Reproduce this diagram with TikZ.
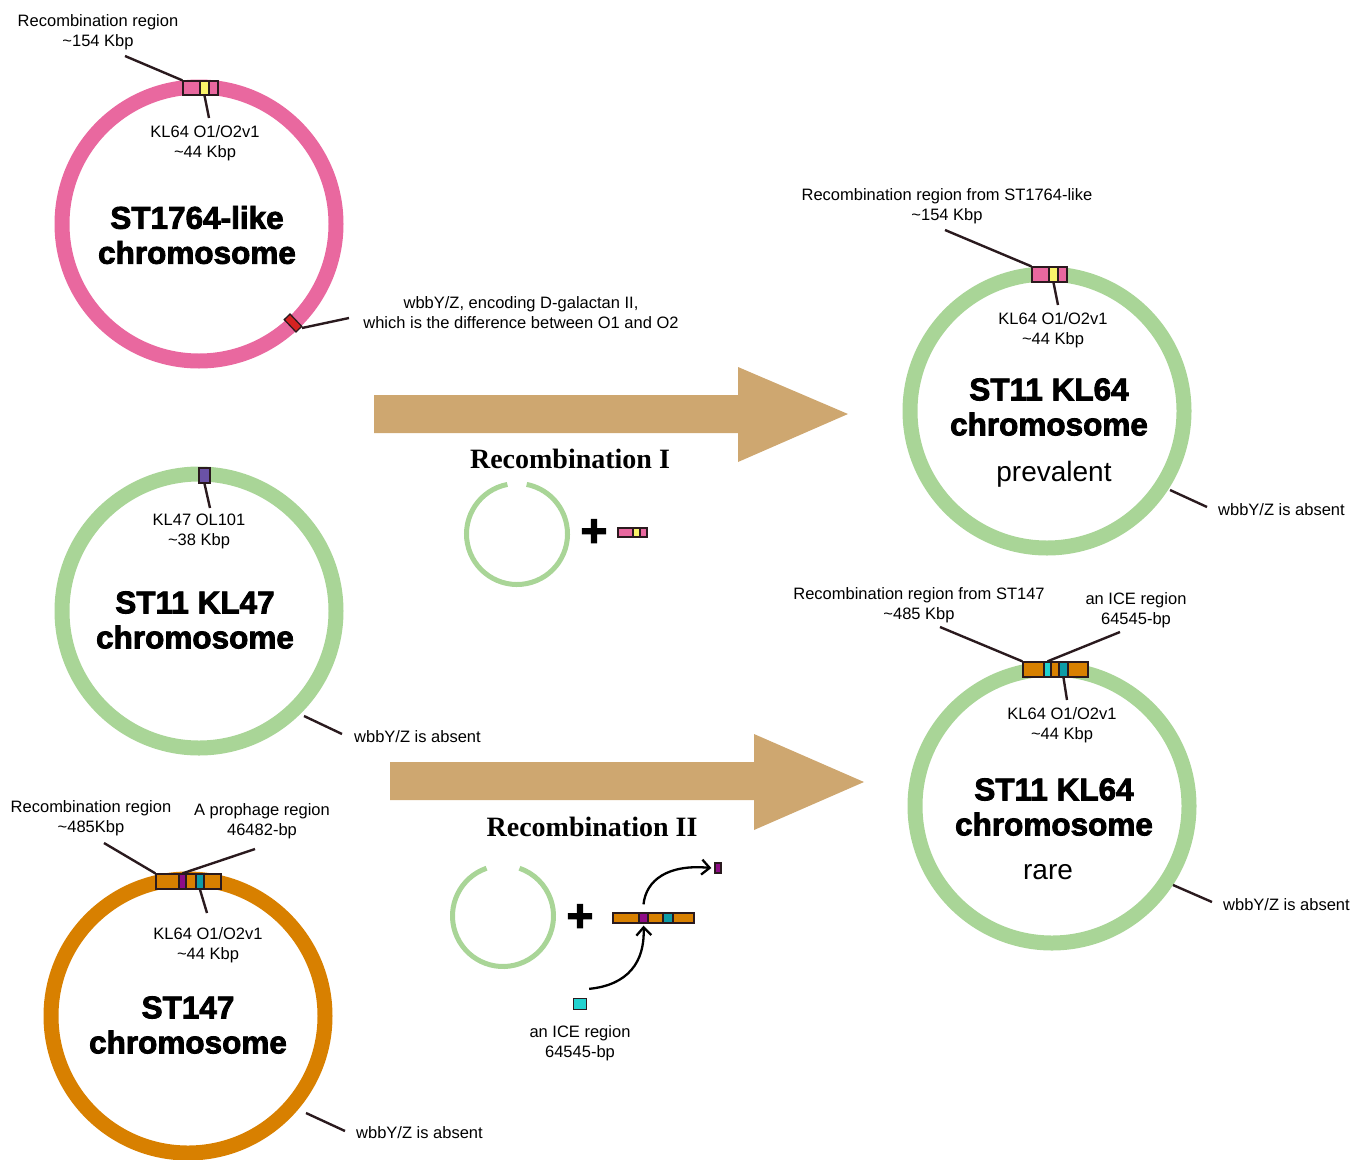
\documentclass[tikz,border=0pt]{standalone}
\usepackage{fontspec}
\setmainfont{Liberation Sans}
\newfontfamily\titlefont[FakeBold=2.6]{Liberation Sans Bold}
\newfontfamily\recfont{Liberation Serif Bold}
\usetikzlibrary{arrows.meta,calc}
\definecolor{pinkring}{HTML}{E9689F}
\definecolor{greenring}{HTML}{A9D597}
\definecolor{orangering}{HTML}{D88000}
\definecolor{tanarrow}{HTML}{CEA770}
\definecolor{yellowmark}{HTML}{FAF36A}
\definecolor{purplemark}{HTML}{8E0C86}
\definecolor{cyanmark}{HTML}{22D2D0}
\definecolor{tealmark}{HTML}{0E9CA6}
\definecolor{redmark}{HTML}{D42222}
\definecolor{violetmark}{HTML}{6A52A6}
\definecolor{edge}{HTML}{2A1A1E}

\tikzset{
  ring/.style={circle,draw=#1,line width=15pt,minimum size=274pt,inner sep=0pt},
  smallring/.style={draw=greenring,line width=5pt},
  regbox/.style={rectangle,draw=edge,line width=1.3pt,inner sep=0pt},
  lbl/.style={font=\fontsize{16.5}{20}\selectfont,align=center,inner sep=0pt,yshift=-2pt},
  big/.style={font=\titlefont\fontsize{31.5}{35}\selectfont,align=center,inner sep=0pt},
  lead/.style={draw=edge,line width=2.4pt},
  curve/.style={draw=black,line width=2.3pt,-{Straight Barb[length=8pt,width=15pt]}},
}

\begin{document}
\begin{tikzpicture}[x=1pt,y=-1pt]
\useasboundingbox (0,0) rectangle (1351,1159);

% ST1764-like chromosome
\node[ring=pinkring] (st1764) at (199,224) {};
\node[big] (t1764) at (197,235) {ST1764-like\\chromosome};
\node[regbox,fill=pinkring,minimum width=35pt,minimum height=14pt] (boxA) at (200.5,88) {};
\node[regbox,fill=yellowmark,minimum width=9pt,minimum height=14pt] (kA) at (204.5,88) {};
\node[regbox,fill=redmark,minimum width=17pt,minimum height=8pt,rotate=-46.5] (wbb) at (293,323) {};
\node[lbl] (recA) at (98,30) {Recombination region\\\textasciitilde154 Kbp};
\node[lbl] (klA) at (205,141) {KL64 O1/O2v1\\\textasciitilde44 Kbp};
\node[lbl] (wbbtxt) at (521,311) {wbbY/Z, encoding D-galactan II,\\which is the difference between O1 and O2};
\coordinate (recAend) at (125,56);
\coordinate (klAend) at (209,118);
\coordinate (wbbend) at (349,318);
\draw[lead] (boxA.north west) -- (recAend);
\draw[lead] (kA.south) -- (klAend);
\draw[lead] (302,328) -- (wbbend);

% ST11 KL47 chromosome
\node[ring=greenring] (kl47) at (199,611) {};
\node[big] (t47) at (195,620) {ST11 KL47\\chromosome};
\node[regbox,fill=violetmark,minimum width=11pt,minimum height=15pt] (boxB) at (204.5,475.5) {};
\node[lbl] (klB) at (199,529) {KL47 OL101\\\textasciitilde38 Kbp};
\node[lbl,anchor=west] (absB) at (354,735) {wbbY/Z is absent};
\coordinate (klBend) at (210,508);
\coordinate (absBa) at (304,716);
\coordinate (absBb) at (342,734);
\draw[lead] (boxB.south) -- (klBend);
\draw[lead] (absBa) -- (absBb);

% ST147 chromosome
\node[ring=orangering] (st147) at (188,1016) {};
\node[big] (t147) at (188,1025) {ST147\\chromosome};
\node[regbox,fill=orangering,minimum width=65pt,minimum height=15pt] (boxC) at (188.5,881.5) {};
\node[regbox,fill=purplemark,minimum width=7pt,minimum height=15pt] (phC) at (182.5,881.5) {};
\node[regbox,fill=tealmark,minimum width=8pt,minimum height=15pt] (kC) at (200,881.5) {};
\node[lbl] (recC) at (91,816) {Recombination region\\\textasciitilde485Kbp};
\node[lbl] (phtxt) at (262,819) {A prophage region\\46482-bp};
\node[lbl] (klC) at (208,943) {KL64 O1/O2v1\\\textasciitilde44 Kbp};
\node[lbl,anchor=west] (absC) at (356,1131) {wbbY/Z is absent};
\coordinate (recCend) at (104,843);
\coordinate (phCend) at (255,849);
\coordinate (klCend) at (207,913);
\coordinate (absCa) at (306,1113);
\coordinate (absCb) at (345,1131);
\draw[lead] (boxC.north west) -- (recCend);
\draw[lead] (phC.north) -- (phCend);
\draw[lead] (kC.south) -- (klCend);
\draw[lead] (absCa) -- (absCb);

% recombination arrows
\fill[tanarrow] (374,395) -- (738,395) -- (738,367) -- (848,414) -- (738,462) -- (738,433) -- (374,433) -- cycle;
\fill[tanarrow] (390,762) -- (754,762) -- (754,734) -- (864,782) -- (754,830) -- (754,800) -- (390,800) -- cycle;
\node[font=\recfont\fontsize{28}{30}\selectfont] (recI) at (570,459) {Recombination I};
\node[font=\recfont\fontsize{28}{30}\selectfont] (recII) at (592,827) {Recombination II};

% recombination I parts
\coordinate (scA) at (517,534);
\draw[smallring] ([shift={(101:50.5pt)}]scA) arc[start angle=101,end angle=439,radius=50.5pt];
\node[font=\titlefont\fontsize{46}{46}\selectfont,inner sep=0pt] (plusA) at (594,533) {+};
\node[regbox,fill=pinkring,minimum width=29pt,minimum height=9pt] (barA) at (632.5,532.5) {};
\node[regbox,fill=yellowmark,minimum width=7pt,minimum height=9pt] (barAk) at (636.5,532.5) {};

% recombination II parts
\coordinate (scB) at (503,916);
\draw[smallring] ([shift={(109:50.5pt)}]scB) arc[start angle=109,end angle=431,radius=50.5pt];
\node[font=\titlefont\fontsize{46}{46}\selectfont,inner sep=0pt] (plusB) at (580,918) {+};
\node[regbox,fill=orangering,minimum width=81pt,minimum height=10pt] (barB) at (653.5,918) {};
\node[regbox,fill=purplemark,minimum width=9pt,minimum height=10pt] (barP) at (643.5,918) {};
\node[regbox,fill=tealmark,minimum width=10pt,minimum height=10pt] (barT) at (668,918) {};
\node[regbox,fill=cyanmark,minimum width=13pt,minimum height=11pt] (iceA) at (580,1004) {};
\node[regbox,fill=purplemark,minimum width=6pt,minimum height=10pt] (phageA) at (718,868) {};
\node[lbl] (icetxt) at (580,1041) {an ICE region\\64545-bp};
\draw[curve] ([xshift=2pt,yshift=9pt]iceA.north east) .. controls (628,985) and (645,962) .. ([yshift=-2pt]barP.south);
\draw[curve] ([yshift=8pt]barP.north) .. controls (646,880) and (668,864) .. ([xshift=-3pt]phageA.west);

% ST11 KL64 prevalent
\node[ring=greenring] (kl64p) at (1047,411) {};
\node[big] (t64p) at (1049,407) {ST11 KL64\\chromosome};
\node[font=\fontsize{28}{30}\selectfont,inner sep=0pt] (prev) at (1054,474) {prevalent};
\node[regbox,fill=pinkring,minimum width=35pt,minimum height=15pt] (boxD) at (1049.5,274.5) {};
\node[regbox,fill=yellowmark,minimum width=9pt,minimum height=15pt] (kD) at (1053.5,274.5) {};
\node[lbl] (recD) at (947,204) {Recombination region from ST1764-like\\\textasciitilde154 Kbp};
\node[lbl] (klD) at (1053,328) {KL64 O1/O2v1\\\textasciitilde44 Kbp};
\node[lbl,anchor=west] (absD) at (1218,508) {wbbY/Z is absent};
\coordinate (recDend) at (945,230);
\coordinate (klDend) at (1058,305);
\coordinate (absDa) at (1170,490);
\coordinate (absDb) at (1207,507);
\draw[lead] (boxD.north west) -- (recDend);
\draw[lead] (kD.south) -- (klDend);
\draw[lead] (absDa) -- (absDb);

% ST11 KL64 rare
\node[ring=greenring] (kl64r) at (1052,806) {};
\node[big] (t64r) at (1054,807) {ST11 KL64\\chromosome};
\node[font=\fontsize{28}{30}\selectfont,inner sep=0pt] (rare) at (1048,872) {rare};
\node[regbox,fill=orangering,minimum width=65pt,minimum height=15pt] (boxE) at (1055.5,669.5) {};
\node[regbox,fill=cyanmark,minimum width=7pt,minimum height=15pt] (iceE) at (1047.5,669.5) {};
\node[regbox,fill=tealmark,minimum width=9pt,minimum height=15pt] (kE) at (1063.5,669.5) {};
\node[lbl] (recE) at (919,603) {Recombination region from ST147\\\textasciitilde485 Kbp};
\node[lbl] (icetxtE) at (1136,608) {an ICE region\\64545-bp};
\node[lbl] (klE) at (1062,723) {KL64 O1/O2v1\\\textasciitilde44 Kbp};
\node[lbl,anchor=west] (absE) at (1223,903) {wbbY/Z is absent};
\coordinate (recEend) at (940,627);
\coordinate (iceEend) at (1120,632);
\coordinate (klEend) at (1067,700);
\coordinate (absEa) at (1173,885);
\coordinate (absEb) at (1212,902);
\draw[lead] (boxE.north west) -- (recEend);
\draw[lead] (iceE.north) -- (iceEend);
\draw[lead] (kE.south) -- (klEend);
\draw[lead] (absEa) -- (absEb);
\end{tikzpicture}
\end{document}
